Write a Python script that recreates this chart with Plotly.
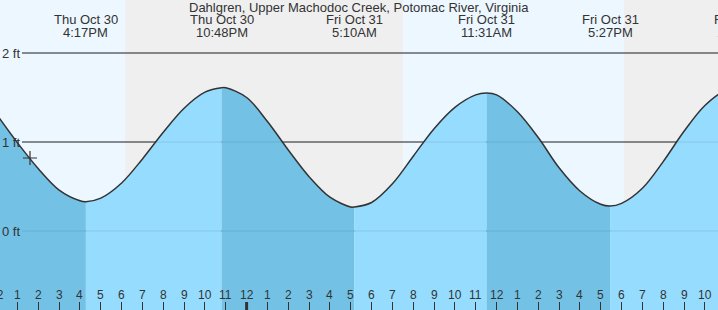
import plotly.graph_objects as go
import pandas as pd

title = "Dahlgren, Upper Machodoc Creek, Potomac River, Virginia"

# hourly tide heights (ft)
hourly_times = [
    "2025-10-30 12:00", "2025-10-30 13:00", "2025-10-30 14:00", "2025-10-30 15:00",
    "2025-10-30 16:00", "2025-10-30 17:00", "2025-10-30 18:00", "2025-10-30 19:00",
    "2025-10-30 20:00", "2025-10-30 21:00", "2025-10-30 22:00", "2025-10-30 23:00",
    "2025-10-31 00:00", "2025-10-31 01:00", "2025-10-31 02:00", "2025-10-31 03:00",
    "2025-10-31 04:00", "2025-10-31 05:00", "2025-10-31 06:00", "2025-10-31 07:00",
    "2025-10-31 08:00", "2025-10-31 09:00", "2025-10-31 10:00", "2025-10-31 11:00",
    "2025-10-31 12:00", "2025-10-31 13:00", "2025-10-31 14:00", "2025-10-31 15:00",
    "2025-10-31 16:00", "2025-10-31 17:00", "2025-10-31 18:00", "2025-10-31 19:00",
    "2025-10-31 20:00", "2025-10-31 21:00", "2025-10-31 22:00", "2025-10-31 23:00",
]
hourly_heights = [
    1.31, 0.99, 0.70, 0.46, 0.34, 0.37, 0.54, 0.81, 1.11, 1.38, 1.56, 1.61,
    1.50, 1.23, 0.91, 0.61, 0.38, 0.27, 0.32, 0.53, 0.84, 1.15, 1.39, 1.53,
    1.53, 1.34, 1.05, 0.71, 0.45, 0.30, 0.31, 0.48, 0.78, 1.12, 1.41, 1.58,
]

# high / low tide events
event_times = ["2025-10-30 16:17", "2025-10-30 22:48", "2025-10-31 05:10",
               "2025-10-31 11:31", "2025-10-31 17:27", "2025-10-31 23:48"]
event_heights = [0.33, 1.61, 0.27, 1.55, 0.28, 1.60]
event_dates = ["Thu Oct 30", "Thu Oct 30", "Fri Oct 31", "Fri Oct 31", "Fri Oct 31", "Fri Oct 31"]
event_clock = ["4:17PM", "10:48PM", "5:10AM", "11:31AM", "5:27PM", "11:48PM"]

# sun
sunsets = ["2025-10-30 18:10", "2025-10-31 18:07"]
sunrises = ["2025-10-31 07:31"]

# current time marker
now_time = "2025-10-30 13:36"
now_height = 0.82

# axis ticks
tick_times = list(hourly_times)
tick_labels = [str(pd.Timestamp(t).hour % 12 or 12) for t in tick_times]
y_ticks = [0, 1, 2]
y_tick_labels = ["0 ft", "1 ft", "2 ft"]

x_start = "2025-10-30 12:09:36"
x_end = "2025-10-31 22:37:48"
y_range = [-0.8876, 2.5955]

DAY = "#edf7ff"
NIGHT = "#efefef"
RISE = "#96dcfe"
FALL = "#73c2e6"
INK = "#333333"
FONT = "Liberation Sans, Arial, sans-serif"
W, H = 718, 310

# merge series
pts = sorted(zip(pd.to_datetime(hourly_times + event_times), hourly_heights + event_heights))
xs = [p[0] for p in pts]
ys = [p[1] for p in pts]
ev_ts = set(pd.to_datetime(event_times))
split = [0] + [i for i, x in enumerate(xs) if x in ev_ts] + [len(xs) - 1]

fig = go.Figure()
ybot = y_range[0] - 1
for a, b in zip(split[:-1], split[1:]):
    sx = xs[a:b + 1]
    sy = ys[a:b + 1]
    if len(sx) < 2:
        continue
    col = FALL if sy[-1] < sy[0] else RISE
    fig.add_trace(go.Scatter(x=sx, y=[ybot] * len(sx), mode="lines",
                             line=dict(width=0, color="rgba(0,0,0,0)"), hoverinfo="skip"))
    fig.add_trace(go.Scatter(x=sx, y=sy, mode="lines", fill="tonexty", fillcolor=col,
                             line=dict(width=0, color="rgba(0,0,0,0)", shape="spline"),
                             hoverinfo="skip"))

fig.add_trace(go.Scatter(x=xs, y=ys, mode="lines",
                         line=dict(color=INK, width=1.5, shape="spline"), hoverinfo="skip"))
fig.add_trace(go.Scatter(x=[now_time], y=[now_height], mode="markers",
                         marker=dict(symbol="cross-thin", size=10, color=INK,
                                     line=dict(color=INK, width=1.2))))

# background bands
edges = ["2025-10-30 06:00"] + sorted(sunsets + sunrises) + ["2025-11-01 06:00"]
shapes = []
for i in range(len(edges) - 1):
    shapes.append(dict(type="rect", xref="x", yref="paper", x0=edges[i], x1=edges[i + 1],
                       y0=0, y1=1, fillcolor=DAY if i % 2 == 0 else NIGHT,
                       line=dict(width=0), layer="below"))
for yv in y_ticks:
    shapes.append(dict(type="line", xref="paper", yref="y", x0=22 / W, x1=1, y0=yv, y1=yv,
                       line=dict(color="#2a2a2a", width=1), layer="below"))
    shapes.append(dict(type="line", xref="paper", yref="y", x0=22 / W, x1=1, y0=yv, y1=yv,
                       line=dict(color="rgba(0,30,60,0.10)", width=1), layer="above"))
for t in tick_times:
    if pd.Timestamp(t).hour == 0:
        shapes.append(dict(type="line", xref="x", yref="paper", x0=t, x1=t, y0=0, y1=8 / H,
                           line=dict(color=INK, width=3), layer="above"))

t0, t1 = pd.Timestamp(x_start), pd.Timestamp(x_end)


def xpos(t):
    ts = pd.Timestamp(t)
    if t0 <= ts <= t1:
        return dict(xref="x", x=t, xanchor="center")
    return dict(xref="paper", x=(ts - t0) / (t1 - t0), xanchor="center")


ann = [dict(text=title, xref="paper", x=0.5, xanchor="center", yref="paper", y=1 - 7.5 / H,
            yanchor="middle", showarrow=False, font=dict(family=FONT, size=13, color=INK))]
for t, d, c in zip(event_times, event_dates, event_clock):
    ann.append(dict(text=d, yref="paper", y=1 - 20 / H, yanchor="middle", showarrow=False,
                    font=dict(family=FONT, size=13, color=INK), **xpos(t)))
    ann.append(dict(text=c, yref="paper", y=1 - 32.5 / H, yanchor="middle", showarrow=False,
                    font=dict(family=FONT, size=13, color=INK), **xpos(t)))
for t, lab in zip(tick_times, tick_labels):
    ann.append(dict(text=lab, yref="paper", y=15 / H, yanchor="middle", showarrow=False,
                    font=dict(family=FONT, size=12, color=INK), **xpos(t)))
for yv, lab in zip(y_ticks, y_tick_labels):
    ann.append(dict(text=lab, xref="paper", x=0, xanchor="left", yref="y", y=yv,
                    yanchor="middle", showarrow=False,
                    font=dict(family=FONT, size=13, color=INK)))

fig.update_layout(
    width=W, height=H, margin=dict(l=0, r=0, t=0, b=0, autoexpand=False),
    paper_bgcolor="white", plot_bgcolor="white", showlegend=False,
    shapes=shapes, annotations=ann,
    xaxis=dict(type="date", range=[x_start, x_end], tickvals=tick_times, showticklabels=False,
               ticks="inside", ticklen=8, tickwidth=1, tickcolor=INK,
               showgrid=False, zeroline=False, showline=False, fixedrange=True),
    yaxis=dict(range=y_range, showticklabels=False, showgrid=False, zeroline=False,
               showline=False, ticks="", fixedrange=True),
)

fig.write_html("out.html", config={"displayModeBar": False})
